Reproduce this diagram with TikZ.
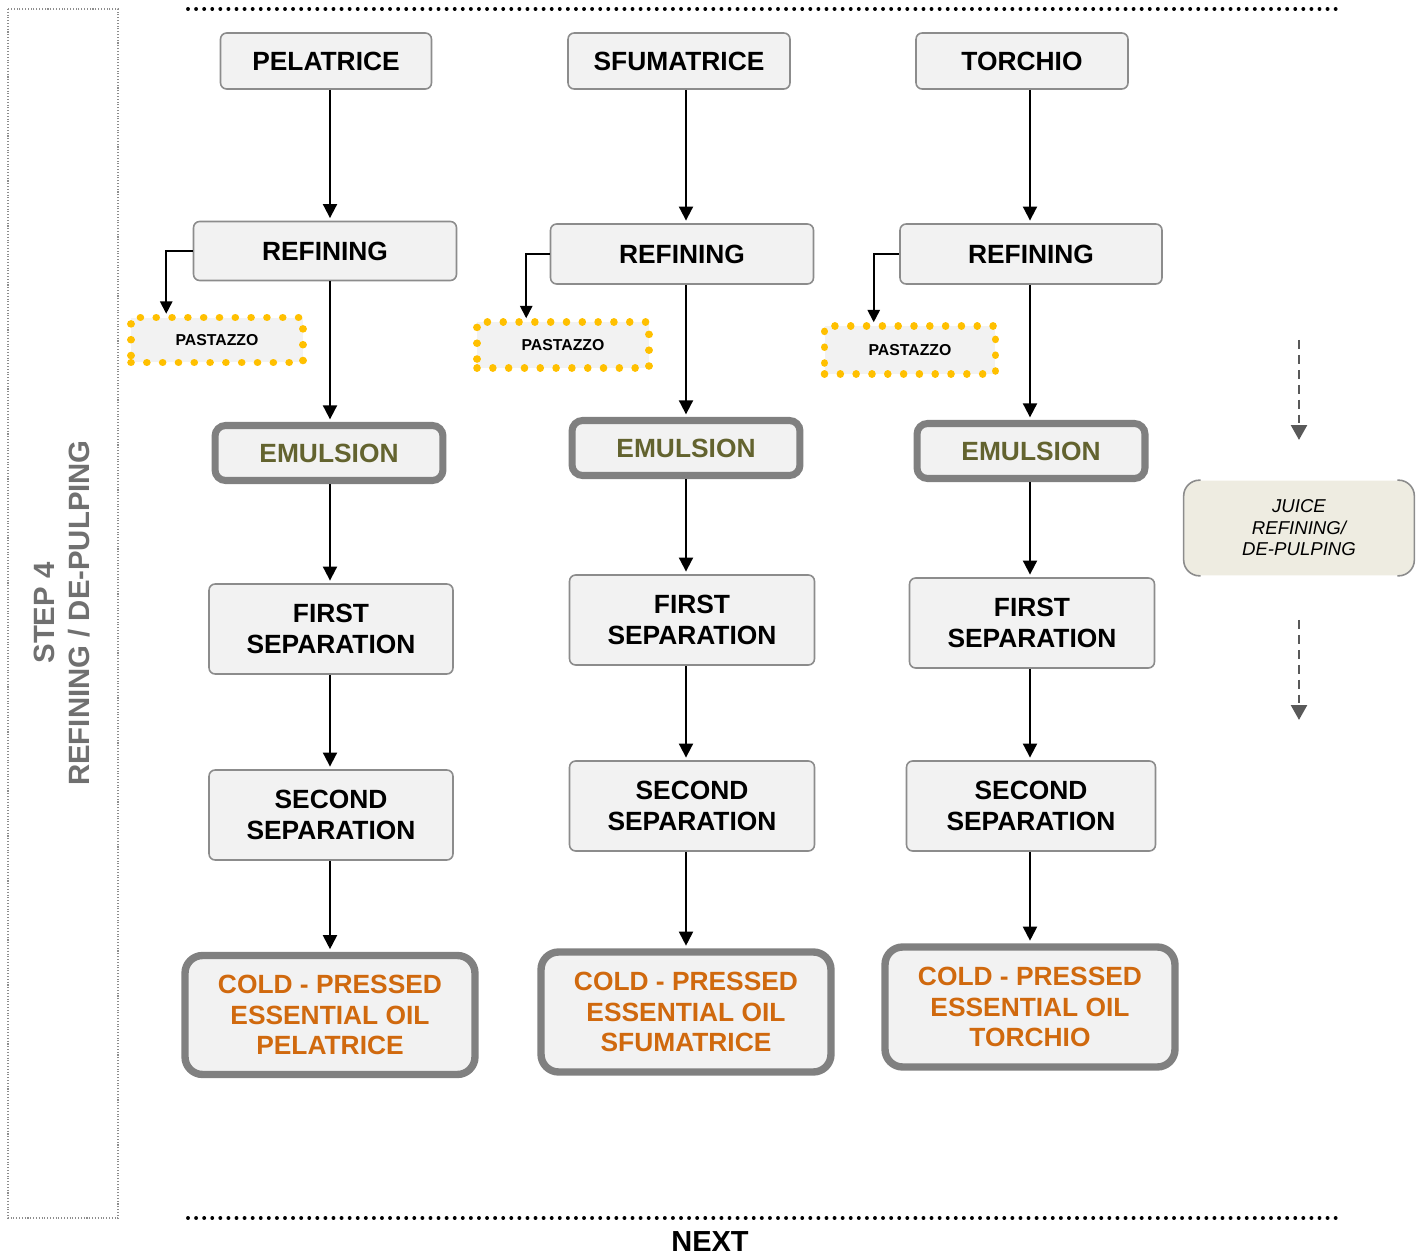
\documentclass[tikz,border=0pt]{standalone}
\usepackage{fontspec}
\setmainfont{Liberation Sans}
\usetikzlibrary{arrows.meta}
\definecolor{boxfill}{HTML}{F2F2F2}
\definecolor{boxline}{HTML}{8C8C8C}
\definecolor{thickline}{HTML}{808080}
\definecolor{emultext}{HTML}{63632F}
\definecolor{oiltext}{HTML}{D0690E}
\definecolor{pulpdot}{HTML}{FFC000}
\definecolor{juicefill}{HTML}{EEECE1}
\definecolor{steptext}{HTML}{707070}
\definecolor{dasharr}{HTML}{595959}

\begin{document}
\begin{tikzpicture}[x=0.02cm,y=-0.02cm,
	big/.style={font=\bfseries\fontsize{15}{17.3}\selectfont},
	box/.style={big,draw=boxline,line width=0.9pt,fill=boxfill,rounded corners=3.5pt,align=center,inner sep=0pt,minimum height=1.12cm},
	sepbox/.style={box,minimum width=4.9cm,minimum height=1.8cm},
	pulp/.style={draw=pulpdot,fill=boxfill,line width=4.3pt,line cap=round,dash pattern=on 0.01pt off 8.99pt,font=\bfseries\fontsize{9}{10}\selectfont,inner sep=0pt,minimum width=3.44cm,minimum height=0.92cm},
	emul/.style={big,draw=thickline,line width=4pt,fill=boxfill,rounded corners=6pt,text=emultext,inner sep=0pt,minimum width=4.56cm,minimum height=1.1cm},
	oil/.style={big,draw=thickline,line width=4.2pt,fill=boxfill,rounded corners=10pt,text=oiltext,align=center,inner sep=0pt,minimum width=5.8cm,minimum height=2.4cm},
	arr/.style={line width=1.1pt,-{Triangle[length=8pt,width=8pt]},shorten >=1.5pt},
	side/.style={line width=1pt,-{Triangle[length=7pt,width=7pt]}},
	dasharrow/.style={dasharr,line width=1.6pt,dash pattern=on 5pt off 3.5pt,-{Triangle[length=8.5pt,width=9pt]}}]
	\useasboundingbox (0,0) rectangle (1424,1256);

	\draw[steptext!80,line width=0.6pt,densely dotted] (8,9) rectangle (118,1218);
	\node[rotate=90,align=center,text=steptext,font=\bfseries\fontsize{16.7}{19.8}\selectfont] (step) at (62,613) {STEP 4\\REFINING / DE-PULPING};
	\draw[line width=2.2pt,line cap=round,dash pattern=on 0.01pt off 4.59pt] (188,9) -- (1340,9);
	\draw[line width=2.2pt,line cap=round,dash pattern=on 0.01pt off 4.59pt] (188,1218) -- (1340,1218);
	\node[anchor=base,inner sep=0pt,font=\bfseries\fontsize{16.5}{18}\selectfont] (next) at (710,1251) {NEXT};

	\node[box,minimum width=4.22cm] (pel) at (326,61) {PELATRICE};
	\node[box,minimum width=5.26cm,minimum height=1.18cm] (ref1) at (325,251) {REFINING};
	\node[pulp,minimum height=0.9cm] (pas1) at (217,340) {PASTAZZO};
	\node[emul] (emu1) at (329,453) {EMULSION};
	\node[sepbox,minimum width=4.88cm] (fs1) at (331,629) {FIRST\\SEPARATION};
	\node[sepbox,minimum width=4.88cm] (ss1) at (331,815) {SECOND\\SEPARATION};
	\node[oil,minimum height=2.38cm] (oil1) at (330,1015) {COLD - PRESSED\\ESSENTIAL OIL\\PELATRICE};

	\node[box,minimum width=4.44cm] (sfu) at (679,61) {SFUMATRICE};
	\node[box,minimum width=5.26cm,minimum height=1.2cm] (ref2) at (682,254) {REFINING};
	\node[pulp] (pas2) at (563,345) {PASTAZZO};
	\node[emul] (emu2) at (686,448) {EMULSION};
	\node[sepbox] (fs2) at (692,620) {FIRST\\SEPARATION};
	\node[sepbox] (ss2) at (692,806) {SECOND\\SEPARATION};
	\node[oil] (oil2) at (686,1012) {COLD - PRESSED\\ESSENTIAL OIL\\SFUMATRICE};

	\node[box,minimum width=4.24cm] (tor) at (1022,61) {TORCHIO};
	\node[box,minimum width=5.24cm,minimum height=1.2cm] (ref3) at (1031,254) {REFINING};
	\node[pulp,minimum width=3.42cm,minimum height=0.96cm] (pas3) at (910,350) {PASTAZZO};
	\node[emul] (emu3) at (1031,451) {EMULSION};
	\node[sepbox] (fs3) at (1032,623) {FIRST\\SEPARATION};
	\node[sepbox,minimum width=4.98cm] (ss3) at (1031,806) {SECOND\\SEPARATION};
	\node[oil] (oil3) at (1030,1007) {COLD - PRESSED\\ESSENTIAL OIL\\TORCHIO};

	\draw[arr] (pel.south -| oil1) -- (ref1.north -| oil1);
	\draw[arr] (ref1.south -| oil1) -- (emu1.north -| oil1);
	\draw[arr] (emu1.south -| oil1) -- (fs1.north -| oil1);
	\draw[arr] (fs1.south -| oil1) -- (ss1.north -| oil1);
	\draw[arr] (ss1.south -| oil1) -- (oil1.north);
	\draw[side] (ref1.west) -| ([xshift=0.78cm]pas1.north west);

	\draw[arr] (sfu.south -| oil2) -- (ref2.north -| oil2);
	\draw[arr] (ref2.south -| oil2) -- (emu2.north -| oil2);
	\draw[arr] (emu2.south -| oil2) -- (fs2.north -| oil2);
	\draw[arr] (fs2.south -| oil2) -- (ss2.north -| oil2);
	\draw[arr] (ss2.south -| oil2) -- (oil2.north);
	\draw[side] (ref2.west) -| ([xshift=1.06cm]pas2.north west);

	\draw[arr] (tor.south -| oil3) -- (ref3.north -| oil3);
	\draw[arr] (ref3.south -| oil3) -- (emu3.north -| oil3);
	\draw[arr] (emu3.south -| oil3) -- (fs3.north -| oil3);
	\draw[arr] (fs3.south -| oil3) -- (ss3.north -| oil3);
	\draw[arr] (ss3.south -| oil3) -- (oil3.north);
	\draw[side] (ref3.west) -| ([xshift=1.06cm]pas3.north west);

	\node[fill=juicefill,rounded corners=9pt,align=center,font=\itshape\fontsize{10.6}{12.2}\selectfont,inner sep=0pt,minimum width=4.6cm,minimum height=1.9cm] (juice) at (1299,528) {JUICE\\REFINING/\\DE-PULPING};
	\draw[boxline,line width=0.9pt,rounded corners=9pt] ([xshift=0.34cm]juice.north west) -- (juice.north west) -- (juice.south west) -- ([xshift=0.34cm]juice.south west);
	\draw[boxline,line width=0.9pt,rounded corners=9pt] ([xshift=-0.34cm]juice.north east) -- (juice.north east) -- (juice.south east) -- ([xshift=-0.34cm]juice.south east);
	\coordinate (d1) at (1299,340);
	\coordinate (d2) at (1299,440);
	\coordinate (d3) at (1299,620);
	\coordinate (d4) at (1299,720);
	\draw[dasharrow] (d1) -- (d2);
	\draw[dasharrow] (d3) -- (d4);
\end{tikzpicture}
\end{document}
